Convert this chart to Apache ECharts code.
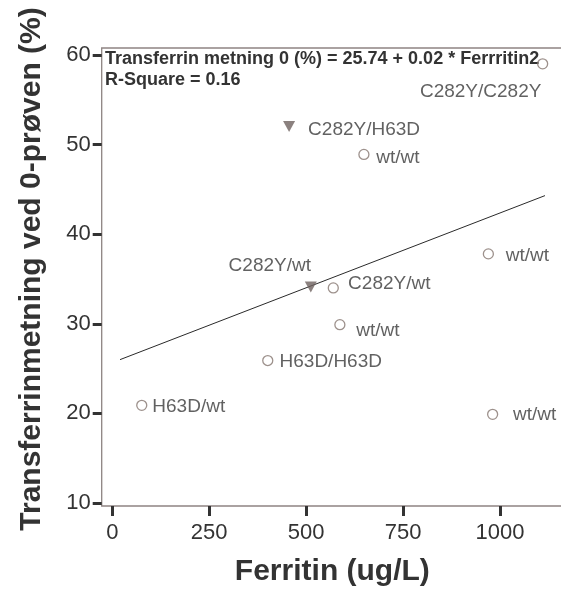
<!DOCTYPE html>
<html>
<head>
<meta charset="utf-8">
<script src="https://cdn.jsdelivr.net/npm/echarts@6/dist/echarts.min.js"></script>
<style>
html,body{margin:0;padding:0;background:#fff;overflow:hidden;}
#chart{width:580px;height:592px;}
</style>
</head>
<body>
<div id="chart"></div>
<script>
// ---- data ----
const genotypes   = ['C282Y/C282Y','C282Y/H63D','wt/wt','wt/wt','C282Y/wt','C282Y/wt','wt/wt','H63D/H63D','H63D/wt','wt/wt'];
const ferritin    = [1110, 456, 649, 970, 512, 570, 587, 401, 76, 981];
const transferrin = [59.0, 52.0, 48.9, 37.8, 34.1, 34.0, 29.9, 25.9, 20.9, 19.9];
const markerGroup = ['o','v','o','o','v','o','o','o','o','o'];
const fitX = [20, 1116];
const fitY = [26.0, 44.3];
const xTicks = [0, 250, 500, 750, 1000];
const yTicks = [10, 20, 30, 40, 50, 60];
const fitText = 'Transferrin metning 0 (%) = 25.74 + 0.02 * Ferrritin2';
const r2Text = 'R-Square = 0.16';
const xTitle = 'Ferritin (ug/L)';
const yTitle = 'Transferrinmetning ved 0-prøven (%)';

// ---- label placement (style only), offsets in px from the marker ----
const labelOffsets = [[-62,28],[75,3],[34,3],[39,2],[-41,-21],[56,-4],[38,6],[63,1],[47,1],[42,0]];

const FONT = '"Liberation Sans", Arial, Helvetica, sans-serif';
const chart = echarts.init(document.getElementById('chart'), null, {renderer:'canvas'});

function pts(kind){
  const out = [];
  for (let i = 0; i < genotypes.length; i++) {
    if (markerGroup[i] !== kind) continue;
    out.push({
      value: [ferritin[i], transferrin[i]],
      name: genotypes[i],
      label: {show:true, formatter: genotypes[i], position:'inside', offset: labelOffsets[i]}
    });
  }
  return out;
}

const labelStyle = {color:'#3a3a3a', fontSize:19, fontFamily:FONT, align:'center', verticalAlign:'middle'};

chart.setOption({
  animation:false,
  backgroundColor:'#fff',
  grid:{left:101.7, top:48, right:17, bottom:81, show:true, borderColor:'#8e8482', borderWidth:1.3, containLabel:false},
  xAxis:{
    type:'value', min:-27.3, max:1162.5,
    axisLine:{show:false, onZero:false},
    splitLine:{show:false},
    axisTick:{show:true, inside:false, length:10, lineStyle:{width:3, color:'#333'}, customValues:xTicks},
    axisLabel:{show:true, margin:16, fontSize:22, color:'#333', fontFamily:FONT, customValues:xTicks,
               formatter:(v)=>String(v)},
    name:xTitle, nameLocation:'middle', nameGap:51,
    nameTextStyle:{fontSize:30, fontWeight:'bold', color:'#333', fontFamily:FONT}
  },
  yAxis:{
    type:'value', min:9.67, max:60.77,
    axisLine:{show:false, onZero:false},
    splitLine:{show:false},
    axisTick:{show:true, inside:false, length:9, lineStyle:{width:3, color:'#333'}, customValues:yTicks},
    axisLabel:{show:true, margin:11, fontSize:22, color:'#333', fontFamily:FONT, customValues:yTicks,
               formatter:(v)=>String(v)}
  },
  graphic:[
    {type:'text', x:32, y:269, rotation:Math.PI/2,
     style:{text:yTitle, font:'bold 30px '+FONT, fill:'#333', align:'center', verticalAlign:'middle'}},
    {type:'text', x:105, y:59, style:{text:fitText, font:'bold 18px '+FONT, fill:'#333', align:'left', verticalAlign:'middle'}},
    {type:'text', x:105, y:80, style:{text:r2Text, font:'bold 18px '+FONT, fill:'#333', align:'left', verticalAlign:'middle'}}
  ],
  series:[
    {type:'line', data: fitX.map((x,i)=>[x, fitY[i]]), symbol:'none',
     lineStyle:{color:'#2a2a2a', width:1}, z:1, silent:true},
    {type:'scatter', data: pts('o'), symbol:'circle', symbolSize:10,
     itemStyle:{color:'rgba(0,0,0,0)', borderColor:'#85766f', borderWidth:1.3},
     label:labelStyle, z:3},
    {type:'scatter', data: pts('v'), symbol:'triangle', symbolRotate:180, symbolSize:[12,11],
     itemStyle:{color:'#6e625f'},
     label:labelStyle, z:4}
  ]
});
</script>
</body>
</html>
